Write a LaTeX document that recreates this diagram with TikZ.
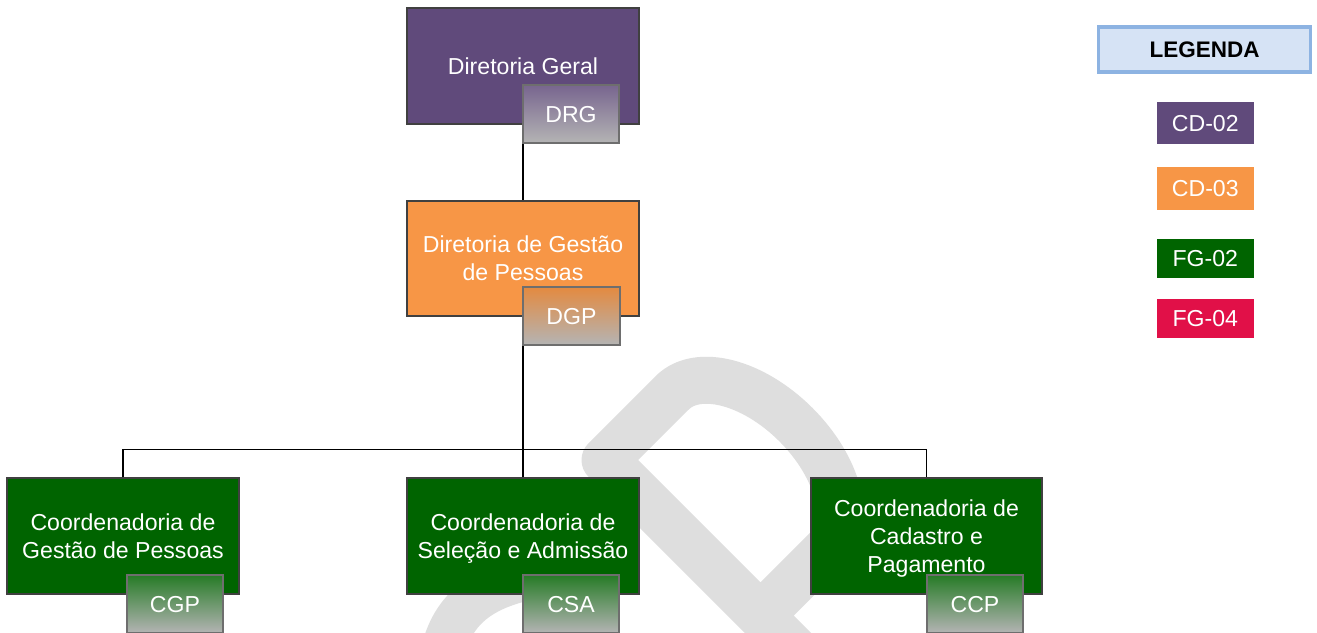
\documentclass[tikz,border=0pt]{standalone}
\usepackage{fontspec}
\setmainfont{Liberation Sans}
\definecolor{cpurple}{HTML}{604A7B}
\definecolor{corange}{HTML}{F79646}
\definecolor{cgreen}{HTML}{006400}
\definecolor{cred}{HTML}{E11048}
\definecolor{cborder}{HTML}{404040}
\definecolor{csmallborder}{HTML}{6E6E6E}
\definecolor{cgraybot}{HTML}{B4B4B4}
\definecolor{cwater}{HTML}{DEDEDE}
\definecolor{clegfill}{HTML}{D6E3F5}
\definecolor{clegdraw}{HTML}{8DB3E2}
\tikzset{
  lbl/.style={font=\fontsize{23.1}{28}\selectfont, text=white, align=center, inner sep=0pt, text depth=0pt},
  bigbox/.style={lbl, draw=cborder, line width=1.8pt, minimum width=232pt, minimum height=116pt},
  smallbox/.style={lbl, draw=csmallborder, line width=2.2pt, minimum width=96pt, minimum height=58pt, bottom color=cgraybot},
  legbox/.style={lbl, minimum width=97pt},
  conn/.style={line width=1.6pt, black},
  water/.style={line width=47pt, cwater, line join=round}
}
\begin{document}
\begin{tikzpicture}[x=1pt,y=-1pt]
\useasboundingbox (0,0) rectangle (1317,632);
\clip (0,0) rectangle (1317,632);
\fill[white] (0,0) rectangle (1317,632);
% watermark
\begin{scope}[shift={(605,460)}, rotate=-45]
  \draw[water] (330,0) -- (0,0) -- (0,-95) arc[start angle=180, end angle=360, x radius=110, y radius=65] -- (220,0);
\end{scope}
\draw[line width=44pt, cwater] (441,660) .. controls (450,610) and (480,585) .. (545,575);
% nodes
\node[bigbox, fill=cpurple] (dg) at (523,66) {Diretoria Geral};
\node[bigbox, fill=corange, minimum height=115pt] (dgp) at (523,258.5) {Diretoria de Gestão\\de Pessoas};
\node[bigbox, fill=cgreen] (cgp) at (123,536) {Coordenadoria de\\Gestão de Pessoas};
\node[bigbox, fill=cgreen] (csa) at (523,536) {Coordenadoria de\\Seleção e Admissão};
\node[bigbox, fill=cgreen, minimum width=231pt] (ccp) at (926.5,536) {Coordenadoria de\\Cadastro e\\Pagamento};
% connectors
\coordinate (bus) at (523,449.5);
\draw[conn] (dg.south) -- (dgp.north);
\draw[conn] (dgp.south) -- (bus);
\draw[conn] (cgp.north) -- (cgp.north |- bus) -- (ccp.north |- bus) -- (ccp.north);
\draw[conn] (bus) -- (csa.north);
% small boxes
\node[smallbox, top color=cpurple!85!white] (drg) at (571,114) {DRG};
\node[smallbox, top color=corange!92!black, minimum width=97pt] (dgpc) at (571.5,316) {DGP};
\node[smallbox, top color=cgreen!85!white] (cgpc) at (175,604) {CGP};
\node[smallbox, top color=cgreen!85!white] (csac) at (571,604) {CSA};
\node[smallbox, top color=cgreen!85!white] (ccpc) at (975,604) {CCP};
% legend
\node[draw=clegdraw, fill=clegfill, line width=3.5pt, minimum width=212pt, minimum height=45pt, inner sep=0pt,
      font=\fontsize{22.5}{26}\selectfont\bfseries] (leg) at (1204.5,49.5) {LEGENDA};
\node[legbox, fill=cpurple, minimum height=42.3pt] (l1) at (1205.3,123) {CD-02};
\node[legbox, fill=corange, minimum height=43.3pt] (l2) at (1205.3,188.3) {CD-03};
\node[legbox, fill=cgreen, minimum height=38.7pt] (l3) at (1205.3,258.3) {FG-02};
\node[legbox, fill=cred, minimum height=38.7pt] (l4) at (1205.3,318.3) {FG-04};
\end{tikzpicture}
\end{document}
